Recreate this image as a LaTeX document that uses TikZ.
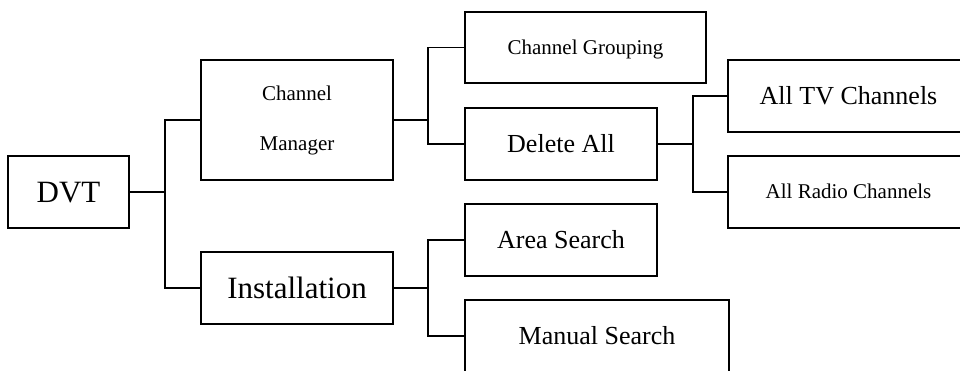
\documentclass[tikz,border=0pt]{standalone}
\usepackage{fontspec}
\setmainfont{Liberation Serif}
\usepackage{tikz}
\usetikzlibrary{calc}

\tikzset{
box/.style={draw,line width=1.6pt,inner sep=0pt,text depth=0pt},
big/.style={font=\fontsize{31}{36}\selectfont,text height=20.5pt},
mid/.style={font=\fontsize{26}{30}\selectfont,text height=17.2pt},
small/.style={font=\fontsize{21}{25}\selectfont,text height=13.9pt},
link/.style={line width=1.6pt}
}

\begin{document}
\begin{tikzpicture}[x=1pt,y=-1pt]
\useasboundingbox (0,0) rectangle (960,370);
\clip (0,0) rectangle (960,370);
\node[box,big,minimum width=121pt,minimum height=72pt] (dvt) at (68.5,192) {DVT};
\node[draw,line width=1.6pt,inner sep=0pt,align=center,minimum width=192pt,minimum height=120pt,font=\fontsize{21}{50}\selectfont] (chman) at (297,120) {Channel\\Manager};
\node[box,big,minimum width=192pt,minimum height=72pt] (inst) at (297,288) {Installation};
\node[box,small,minimum width=241pt,minimum height=71pt] (group) at (585.5,47.5) {Channel Grouping};
\node[box,mid,minimum width=192pt,minimum height=72pt] (delall) at (561,144) {Delete All};
\node[box,mid,minimum width=192pt,minimum height=72pt] (area) at (561,240) {Area Search};
\node[box,mid,minimum width=264pt,minimum height=72pt] (manual) at (597,336) {Manual Search};
\node[box,mid,minimum width=241pt,minimum height=72pt] (alltv) at (848.5,96) {All TV Channels};
\node[box,small,minimum width=241pt,minimum height=72pt] (radio) at (848.5,192) {All Radio Channels};
\coordinate (j1) at (165,192);
\coordinate (j2) at (428,120);
\coordinate (j3) at (428,288);
\coordinate (j4) at (693,144);
\draw[link] (dvt.east) -- (j1);
\draw[link] (chman.west) -| (j1) |- (inst.west);
\draw[link] (chman.east) -- (j2);
\draw[link] (group.west) -| (j2) |- (delall.west);
\draw[link] (inst.east) -- (j3);
\draw[link] (area.west) -| (j3) |- (manual.west);
\draw[link] (delall.east) -- (j4);
\draw[link] (alltv.west) -| (j4) |- (radio.west);
\end{tikzpicture}
\end{document}
